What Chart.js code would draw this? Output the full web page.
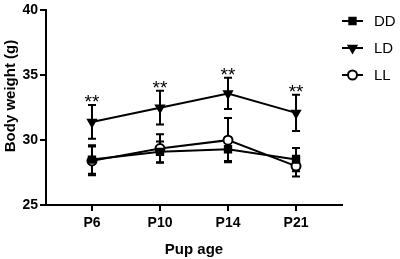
<!DOCTYPE html>
<html>
<head>
<meta charset="utf-8">
<script src="https://cdn.jsdelivr.net/npm/chart.js@4/dist/chart.umd.min.js"></script>
<style>
  html, body { margin: 0; padding: 0; background: #fff; }
  canvas { display: block; }
</style>
</head>
<body>
<canvas id="chartPeso" width="400" height="259"></canvas>
<script>
/* Body weight by pup age */
const ages    = ['P6', 'P10', 'P14', 'P21'];
const ddMean  = [28.5, 29.1, 29.3, 28.5];
const ddErr   = [1.1, 0.8, 0.9, 0.9];
const ldMean  = [31.4, 32.5, 33.6, 32.1];
const ldErr   = [1.3, 1.3, 1.2, 1.4];
const llMean  = [28.4, 29.35, 30.0, 28.0];
const llErr   = [1.1, 1.1, 1.7, 0.8];
const signif  = ['**', '**', '**', '**'];
const yTicks  = [25, 30, 35, 40];
const yTitulo = 'Body weight (g)';

const FONT = '"Liberation Sans", Arial, sans-serif';

function pontos(vals) {
    return vals.map((v, i) => ({ x: i, y: v }));
}

function serie(label, vals, errs, style, rot, fill) {
    return {
        label,
        data: pontos(vals),
        errs,
        borderColor: '#000',
        borderWidth: 2,
        pointStyle: style,
        pointRotation: rot,
        pointRadius: 4.5,
        pointBorderWidth: 2,
        pointBackgroundColor: fill,
        pointBorderColor: '#000',
        tension: 0,
    };
}

const errorBars = {
    id: 'errorBars',
    beforeDatasetsDraw(chart) {
        const ctx = chart.ctx;
        const y = chart.scales.y;
        ctx.save();
        ctx.strokeStyle = '#000';
        ctx.lineWidth = 2;
        chart.data.datasets.forEach((ds, di) => {
            const meta = chart.getDatasetMeta(di);
            meta.data.forEach((pt, i) => {
                const m = ds.data[i].y, e = ds.errs[i];
                const top = y.getPixelForValue(m + e);
                const bot = y.getPixelForValue(m - e);
                ctx.beginPath();
                ctx.moveTo(pt.x, top); ctx.lineTo(pt.x, bot);
                ctx.moveTo(pt.x - 4, top); ctx.lineTo(pt.x + 4, top);
                ctx.moveTo(pt.x - 4, bot); ctx.lineTo(pt.x + 4, bot);
                ctx.stroke();
            });
        });
        ctx.restore();
    },
    afterDatasetsDraw(chart) {
        // asterisks above the LD bars
        const ctx = chart.ctx;
        const y = chart.scales.y;
        const meta = chart.getDatasetMeta(1);
        ctx.save();
        ctx.fillStyle = '#000';
        ctx.font = '19px ' + FONT;
        ctx.textAlign = 'center';
        ctx.textBaseline = 'alphabetic';
        meta.data.forEach((pt, i) => {
            const top = y.getPixelForValue(ldMean[i] + ldErr[i]);
            ctx.fillText(signif[i], pt.x, top + 3);
        });
        ctx.restore();
    }
};

const legendaLateral = {
    id: 'legendaLateral',
    afterDraw(chart) {
        const ctx = chart.ctx;
        const rows = [21, 48, 75];
        ctx.save();
        chart.data.datasets.forEach((ds, i) => {
            const yy = rows[i];
            ctx.strokeStyle = '#000';
            ctx.lineWidth = 2;
            ctx.beginPath();
            ctx.moveTo(342, yy); ctx.lineTo(363, yy);
            ctx.stroke();
            ctx.fillStyle = ds.pointBackgroundColor;
            Chart.helpers.drawPoint(ctx, {
                pointStyle: ds.pointStyle,
                radius: 4.5,
                rotation: ds.pointRotation,
                borderWidth: 2
            }, 352.5, yy);
            ctx.fillStyle = '#000';
            ctx.font = '15px ' + FONT;
            ctx.textAlign = 'left';
            ctx.textBaseline = 'middle';
            ctx.fillText(ds.label, 374, yy + 1);
        });
        // y axis title, sits a bit above the axis centre
        ctx.translate(11, 96);
        ctx.rotate(-Math.PI / 2);
        ctx.font = 'bold 15px ' + FONT;
        ctx.textAlign = 'center';
        ctx.textBaseline = 'middle';
        ctx.fillText(yTitulo, 0, 0);
        ctx.restore();
    }
};

new Chart(document.getElementById('chartPeso'), {
    type: 'line',
    data: {
        datasets: [
            serie('DD', ddMean, ddErr, 'rect', 0, '#000'),
            serie('LD', ldMean, ldErr, 'triangle', 180, '#000'),
            serie('LL', llMean, llErr, 'circle', 0, '#fff'),
        ]
    },
    options: {
        responsive: false,
        animation: false,
        layout: { padding: { top: 9, right: 58, left: 0, bottom: 0 } },
        plugins: {
            legend: { display: false },
            tooltip: { enabled: false },
        },
        scales: {
            x: {
                type: 'linear',
                min: -0.676,
                max: 3.676,
                afterBuildTicks: s => { s.ticks = ages.map((_, i) => ({ value: i })); },
                afterFit: s => { s.height = 54; },
                border: { display: true, color: '#000', width: 2 },
                grid: { drawOnChartArea: false, drawTicks: true, tickLength: 6, color: '#000', lineWidth: 2 },
                ticks: {
                    color: '#000',
                    padding: 4,
                    font: { family: FONT, size: 14, weight: 'bold' },
                    callback: v => ages[v] ?? '',
                    maxRotation: 0,
                },
                title: {
                    display: true,
                    text: 'Pup age',
                    color: '#000',
                    font: { family: FONT, size: 15, weight: 'bold' },
                    padding: { top: 4, bottom: 0 },
                }
            },
            y: {
                min: 25,
                max: 40,
                afterBuildTicks: s => { s.ticks = yTicks.map(v => ({ value: v })); },
                afterFit: s => { s.width = 46; },
                border: { display: true, color: '#000', width: 2 },
                grid: { drawOnChartArea: false, drawTicks: true, tickLength: 6, color: '#000', lineWidth: 2 },
                ticks: {
                    color: '#000',
                    padding: 2,
                    font: { family: FONT, size: 14, weight: 'bold' },
                },
                title: { display: false }
            }
        }
    },
    plugins: [errorBars, legendaLateral]
});
</script>
</body>
</html>
